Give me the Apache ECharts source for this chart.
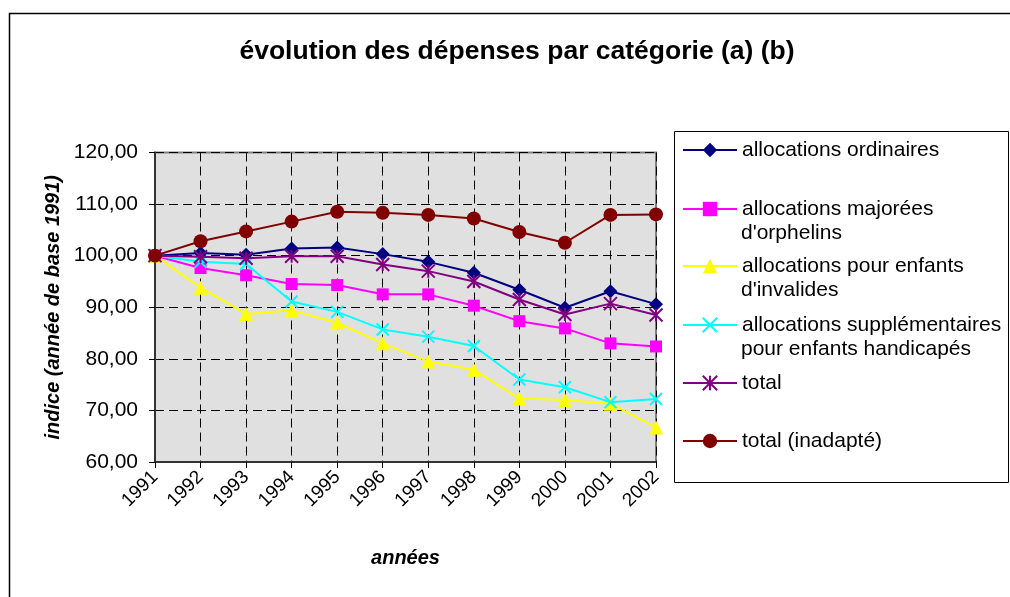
<!DOCTYPE html>
<html>
<head>
<meta charset="utf-8">
<script src="https://cdn.jsdelivr.net/npm/echarts@6/dist/echarts.min.js"></script>
<style>html,body{margin:0;padding:0;background:#fff;}#c{width:1010px;height:597px;}</style>
</head>
<body>
<div id="c"></div>
<script>
const categories = ['1991','1992','1993','1994','1995','1996','1997','1998','1999','2000','2001','2002'];
const ordinaires = [100, 100.5, 100.2, 101.4, 101.6, 100.3, 98.8, 96.7, 93.4, 89.9, 93.1, 90.6];
const majorees = [100, 97.6, 96.2, 94.5, 94.3, 92.5, 92.5, 90.3, 87.3, 85.9, 83.0, 82.4];
const invalides = [100, 93.8, 88.7, 89.4, 87.0, 83.0, 79.5, 77.9, 72.3, 72.0, 71.3, 66.7];
const handicapes = [100, 98.8, 98.4, 91.1, 89.1, 85.7, 84.3, 82.5, 76.0, 74.5, 71.6, 72.2];
const total = [100, 99.8, 99.5, 99.9, 99.9, 98.3, 97.0, 95.0, 91.5, 88.6, 90.7, 88.5];
const totalInadapte = [100, 102.8, 104.7, 106.6, 108.5, 108.3, 107.9, 107.2, 104.6, 102.5, 107.9, 108.0];

const seriesNames = ['allocations ordinaires', "allocations majorées d'orphelins", "allocations pour enfants d'invalides", 'allocations supplémentaires pour enfants handicapés', 'total', 'total (inadapté)'];
const legendLine1 = ['allocations ordinaires', 'allocations majorées', 'allocations pour enfants', 'allocations supplémentaires', 'total', 'total (inadapté)'];
const legendLine2 = ['', "d'orphelins", "d'invalides", 'pour enfants handicapés', '', ''];

const FONT = '"Liberation Sans", Arial, sans-serif';
const chart = echarts.init(document.getElementById('c'), null, {renderer: 'canvas'});

const colors = ['#000080', '#FF00FF', '#FFFF00', '#00FFFF', '#800080', '#800000'];
const symbols = ['diamond', 'rect', 'triangle', 'path://M0,0L10,10M10,0L0,10', 'path://M0,0L10,10M10,0L0,10M5,0L5,10', 'circle'];
const sizes = [14, 12, 14, 12, 13, 14];
const datasets = [ordinaires, majorees, invalides, handicapes, total, totalInadapte];

const series = datasets.map((d, i) => {
  const isPath = symbols[i].indexOf('path://') === 0;
  return {
    name: seriesNames[i],
    type: 'line',
    data: d,
    symbol: symbols[i],
    symbolSize: sizes[i],
    showSymbol: true,
    lineStyle: {color: colors[i], width: 2},
    itemStyle: isPath ? {color: colors[i], borderColor: colors[i], borderWidth: 2} : {color: colors[i], borderWidth: 0},
    emphasis: {disabled: true},
    z: 2 + i
  };
});

const legendCenters = [150, 209, 266, 325, 383, 441];
const legends = seriesNames.map((n, i) => ({
  data: [n],
  left: 682,
  top: legendCenters[i] - 12,
  padding: 0,
  itemWidth: 54,
  itemHeight: 18,
  itemGap: 5,
  selectedMode: false,
  formatter: () => legendLine1[i],
  textStyle: {fontFamily: FONT, fontSize: 21, color: '#000', lineHeight: 24}
}));

const line2Ys = [0, 233, 290, 349, 0, 0];
const graphics = [
  {type: 'rect', left: 7, top: 11, shape: {width: 1010, height: 600}, style: {fill: 'none', stroke: '#000', lineWidth: 1.5}, silent: true, z: 0},
  {type: 'rect', left: 674, top: 131, shape: {width: 334, height: 351}, style: {fill: '#fff', stroke: '#000', lineWidth: 1}, silent: true, z: 0}
];
legendLine2.forEach((t, i) => {
  if (t) graphics.push({type: 'text', left: 741, top: line2Ys[i] - 12, style: {text: t, font: '21px ' + FONT, fill: '#000', lineHeight: 24}, z: 10});
});

chart.setOption({
  animation: false,
  backgroundColor: '#fff',
  title: {
    text: 'évolution des dépenses par catégorie (a) (b)',
    left: 512, top: 33, textAlign: 'center',
    textStyle: {fontFamily: FONT, fontSize: 26.5, fontWeight: 'bold', color: '#000'}
  },
  graphic: graphics,
  legend: legends,
  grid: {left: 155, right: 354, top: 152.5, bottom: 135, show: true, backgroundColor: '#e0e0e0', borderColor: '#808080', borderWidth: 2},
  xAxis: {
    type: 'category',
    data: categories,
    boundaryGap: false,
    name: 'années',
    nameLocation: 'middle',
    nameGap: 86,
    nameTextStyle: {fontFamily: FONT, fontSize: 20, fontWeight: 'bold', fontStyle: 'italic', color: '#000'},
    axisLine: {show: true, lineStyle: {color: '#333', width: 2}},
    axisTick: {show: true, inside: false, length: 6, lineStyle: {color: '#000', width: 1}},
    axisLabel: {rotate: 45, margin: 12, fontFamily: FONT, fontSize: 19, color: '#000'},
    splitLine: {show: true, lineStyle: {color: '#000', type: [9, 5], width: 1}}
  },
  yAxis: {
    type: 'value',
    min: 60, max: 120, interval: 10,
    name: 'indice (année de base 1991)',
    nameLocation: 'middle',
    nameGap: 92,
    nameRotate: 90,
    nameTextStyle: {fontFamily: FONT, fontSize: 20, fontWeight: 'bold', fontStyle: 'italic', color: '#000'},
    axisLine: {show: true, lineStyle: {color: '#333', width: 2}},
    axisTick: {show: true, inside: false, length: 6, lineStyle: {color: '#000', width: 1}},
    axisLabel: {margin: 17, fontFamily: FONT, fontSize: 21, color: '#000', formatter: v => v.toFixed(2).replace('.', ',')},
    splitLine: {show: true, lineStyle: {color: '#000', type: [9, 5], width: 1}}
  },
  series: series
});
</script>
</body>
</html>
